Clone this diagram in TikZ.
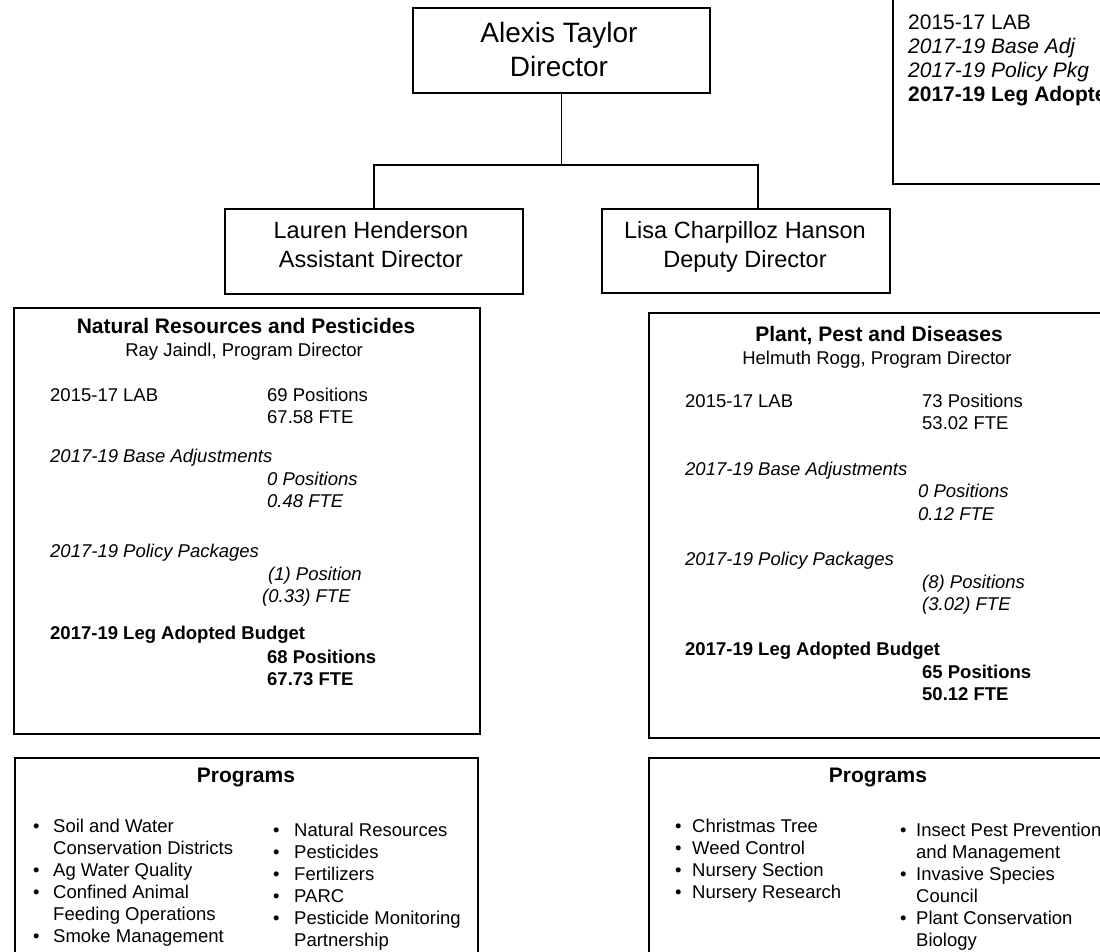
\documentclass[tikz,border=0pt]{standalone}
\usepackage{fontspec}
\setmainfont{Liberation Sans}
\newcommand{\fbody}{\fontsize{18.5}{22}\selectfont}
\newcommand{\ftitle}{\fontsize{21}{25}\selectfont\bfseries}
\begin{document}
\begin{tikzpicture}[x=1pt,y=-1pt]
\tikzset{
  frame/.style={draw=black, line width=1.6pt, inner sep=0pt, anchor=north west},
  conn/.style={draw=black, line width=1.6pt},
  bl/.style={inner sep=0pt, anchor=base west, font=\fbody},
  bc/.style={inner sep=0pt, anchor=base, font=\fbody},
  tc/.style={inner sep=0pt, anchor=base, font=\ftitle},
  lg/.style={inner sep=0pt, anchor=base west, font=\fontsize{21}{25}\selectfont},
  big/.style={inner sep=0pt, anchor=base, font=\fontsize{28}{33}\selectfont},
  mid/.style={inner sep=0pt, anchor=base, font=\fontsize{23.5}{28}\selectfont}
}
\newcommand{\pitem}[5]{%
  \node[bl] (#1-b) at (#2,#4) {\textbullet};
  \node[bl] (#1) at (#3,#4) {#5};}
\clip (0,0) rectangle (1100,952);
\fill[white] (0,0) rectangle (1100,952);

% legend box (top right, cut off)
\node[frame, minimum width=260pt, minimum height=223pt] (legend) at (892,-40) {};
\node[lg] (lg1) at (908,30) {2015-17 LAB};
\node[lg] (lg2) at (908,54) {\itshape 2017-19 Base Adj};
\node[lg] (lg3) at (908,78) {\itshape 2017-19 Policy Pkg};
\node[lg] (lg4) at (908,102) {\bfseries 2017-19 Leg Adopted Budget};

% director
\node[frame, minimum width=297pt, minimum height=85pt] (dir) at (412,7) {};
\node[big] (dirn) at (559,43) {Alexis Taylor};
\node[big] (dirt) at (559,77) {Director};

% assistant / deputy
\node[frame, minimum width=298pt, minimum height=85pt] (lauren) at (224,208) {};
\node[mid] (laurenn) at (371,238) {Lauren Henderson};
\node[mid] (laurent) at (371,267) {Assistant Director};

\node[frame, minimum width=288pt, minimum height=84pt] (lisa) at (601,208) {};
\node[mid] (lisan) at (745,238) {Lisa Charpilloz Hanson};
\node[mid] (lisat) at (745,267) {Deputy Director};

% connectors
\coordinate (bar) at (dir.south |- 0,165);
\draw[conn] (dir.south) -- (bar);
\draw[conn] (lauren.north) |- (bar) -| (lisa.north -| 758,0);

% Natural Resources and Pesticides
\node[frame, minimum width=466pt, minimum height=426pt] (nrp) at (13,307) {};
\node[tc] (nrpt) at (246,333) {Natural Resources and Pesticides};
\node[bc] (nrpd) at (244,356) {Ray Jaindl, Program Director};
\node[bl] (nrp1) at (50,401) {2015-17 LAB};
\node[bl] (nrp1a) at (267,401) {69 Positions};
\node[bl] (nrp1b) at (267,423) {67.58 FTE};
\node[bl] (nrp2) at (50,462) {\itshape 2017-19 Base Adjustments};
\node[bl] (nrp2a) at (267,485) {\itshape 0 Positions};
\node[bl] (nrp2b) at (267,507) {\itshape 0.48 FTE};
\node[bl] (nrp3) at (50,557) {\itshape 2017-19 Policy Packages};
\node[bl] (nrp3a) at (268,580) {\itshape (1) Position};
\node[bl] (nrp3b) at (262,602) {\itshape (0.33) FTE};
\node[bl] (nrp4) at (50,639) {\bfseries 2017-19 Leg Adopted Budget};
\node[bl] (nrp4a) at (267,663) {\bfseries 68 Positions};
\node[bl] (nrp4b) at (267,685) {\bfseries 67.73 FTE};

% Plant, Pest and Diseases
\node[frame, minimum width=460pt, minimum height=425pt] (ppd) at (648,312) {};
\node[tc] (ppdt) at (879,341) {Plant, Pest and Diseases};
\node[bc] (ppdd) at (877,364) {Helmuth Rogg, Program Director};
\node[bl] (ppd1) at (685,407) {2015-17 LAB};
\node[bl] (ppd1a) at (922,407) {73 Positions};
\node[bl] (ppd1b) at (922,429) {53.02 FTE};
\node[bl] (ppd2) at (685,475) {\itshape 2017-19 Base Adjustments};
\node[bl] (ppd2a) at (918,497) {\itshape 0 Positions};
\node[bl] (ppd2b) at (918,520) {\itshape 0.12 FTE};
\node[bl] (ppd3) at (685,565) {\itshape 2017-19 Policy Packages};
\node[bl] (ppd3a) at (922,588) {\itshape (8) Positions};
\node[bl] (ppd3b) at (922,610) {\itshape (3.02) FTE};
\node[bl] (ppd4) at (685,655) {\bfseries 2017-19 Leg Adopted Budget};
\node[bl] (ppd4a) at (922,678) {\bfseries 65 Positions};
\node[bl] (ppd4b) at (922,700) {\bfseries 50.12 FTE};

% Programs (left)
\node[frame, minimum width=463pt, minimum height=230pt] (progl) at (14,757) {};
\node[tc] (proglt) at (246,782) {Programs};
\pitem{pl1}{33}{53}{832}{Soil and Water}
\node[bl] (pl1c) at (53,854) {Conservation Districts};
\pitem{pl2}{33}{53}{876}{Ag Water Quality}
\pitem{pl3}{33}{53}{898}{Confined Animal}
\node[bl] (pl3c) at (53,920) {Feeding Operations};
\pitem{pl4}{33}{53}{942}{Smoke Management}
\pitem{pr1}{273}{294}{836}{Natural Resources}
\pitem{pr2}{273}{294}{858}{Pesticides}
\pitem{pr3}{273}{294}{880}{Fertilizers}
\pitem{pr4}{273}{294}{902}{PARC}
\pitem{pr5}{273}{294}{924}{Pesticide Monitoring}
\node[bl] (pr5c) at (294,946) {Partnership};

% Programs (right)
\node[frame, minimum width=460pt, minimum height=230pt] (progr) at (648,757) {};
\node[tc] (progrt) at (878,782) {Programs};
\pitem{ql1}{675}{692}{832}{Christmas Tree}
\pitem{ql2}{675}{692}{854}{Weed Control}
\pitem{ql3}{675}{692}{876}{Nursery Section}
\pitem{ql4}{675}{692}{898}{Nursery Research}
\pitem{qr1}{900}{916}{836}{Insect Pest Prevention}
\node[bl] (qr1c) at (916,858) {and Management};
\pitem{qr2}{900}{916}{880}{Invasive Species}
\node[bl] (qr2c) at (916,902) {Council};
\pitem{qr3}{900}{916}{924}{Plant Conservation}
\node[bl] (qr3c) at (916,946) {Biology};
\end{tikzpicture}
\end{document}
